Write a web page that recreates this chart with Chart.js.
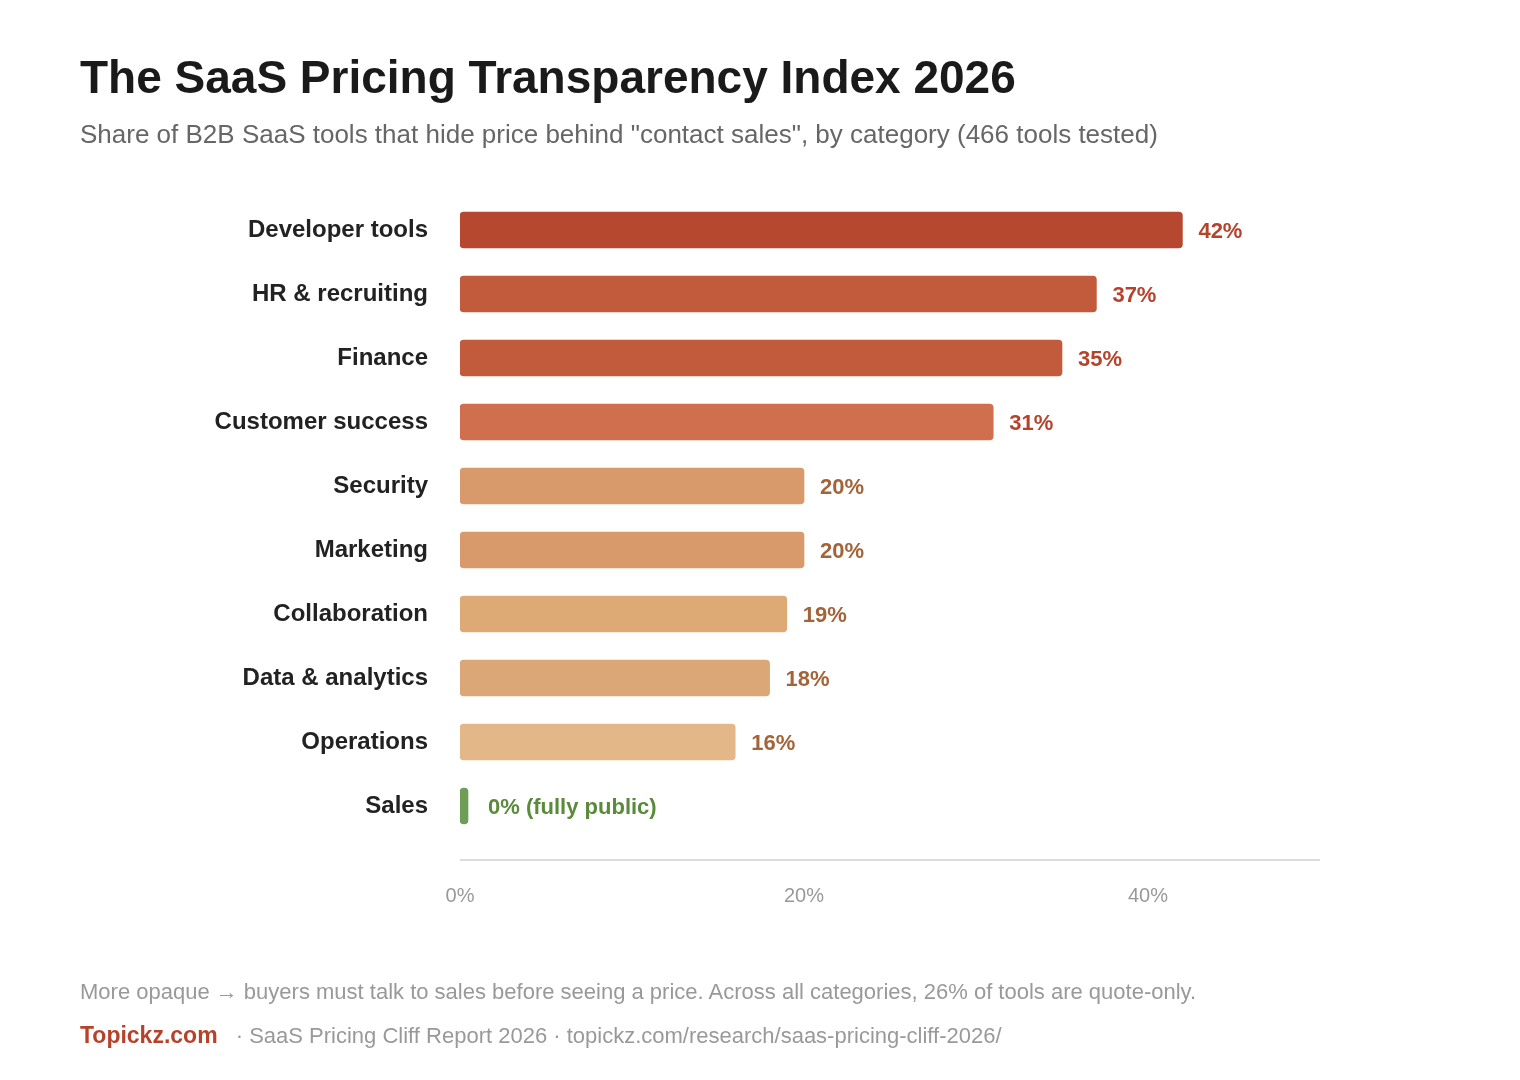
<!DOCTYPE html>
<html>
<head>
<meta charset="utf-8">
<title>SaaS Pricing Transparency Index 2026</title>
<script src="https://cdn.jsdelivr.net/npm/chart.js"></script>
<style>
  body { margin: 0; width: 1520px; height: 1080px; background: #fff; font-family: "Liberation Sans", Arial, sans-serif; position: relative; overflow: hidden; }
  #wrap { position: absolute; left: 0; top: 0; width: 1520px; height: 1080px; }
  .title { position: absolute; left: 80px; top: 50px; font-size: 46px; font-weight: bold; color: #1a1a1a; margin: 0; }
  .sub { position: absolute; left: 80px; top: 119px; font-size: 26px; color: #666; }
  .note { position: absolute; left: 80px; top: 979px; font-size: 22px; color: #999; }
  .src { position: absolute; left: 80px; top: 1022px; font-size: 22px; color: #999; }
  .src b { color: #b5432c; font-size: 23px; margin-right: 12px; }
</style>
</head>
<body>
<div id="wrap"><canvas id="c" width="1520" height="1080"></canvas></div>
<div class="title">The SaaS Pricing Transparency Index 2026</div>
<div class="sub">Share of B2B SaaS tools that hide price behind "contact sales", by category (466 tools tested)</div>
<div class="note">More opaque → buyers must talk to sales before seeing a price. Across all categories, 26% of tools are quote-only.</div>
<div class="src"><b>Topickz.com</b> · SaaS Pricing Cliff Report 2026 · topickz.com/research/saas-pricing-cliff-2026/</div>
<script>
  // data
  var categories = ['Developer tools', 'HR & recruiting', 'Finance', 'Customer success', 'Security',
    'Marketing', 'Collaboration', 'Data & analytics', 'Operations', 'Sales'];
  var shareHidden = [42, 37, 35, 31, 20, 20, 19, 18, 16, 0];
  var valueLabels = ['42%', '37%', '35%', '31%', '20%', '20%', '19%', '18%', '16%', '0% (fully public)'];
  var xTickValues = [0, 20, 40];

  var barColors = ['#b5482f', '#c25b3c', '#c25b3c', '#cf6f4d', '#d89a6a', '#d89a6a', '#ddaa76', '#dca776', '#e3b788', '#6e9e56'];
  var labelColors = ['#b5432c', '#b5432c', '#b5432c', '#b5432c', '#a4643a', '#a4643a', '#a4643a', '#a4643a', '#a4643a', '#5a8a3c'];

  const valueLabelPlugin = {
    id: 'valueLabels',
    afterDatasetsDraw(chart) {
      const ctx = chart.ctx;
      const meta = chart.getDatasetMeta(0);
      ctx.save();
      ctx.font = 'bold 22px "Liberation Sans", Arial, sans-serif';
      ctx.textBaseline = 'middle';
      ctx.textAlign = 'left';
      meta.data.forEach(function (bar, i) {
        ctx.fillStyle = labelColors[i];
        ctx.fillText(valueLabels[i], bar.x + (shareHidden[i] === 0 ? 20 : 16), bar.y + 2);
      });
      // axis baseline
      const xs = chart.scales.x;
      ctx.strokeStyle = '#dddddd';
      ctx.lineWidth = 2;
      ctx.beginPath();
      ctx.moveTo(xs.left, chart.chartArea.bottom + 22);
      ctx.lineTo(xs.right, chart.chartArea.bottom + 22);
      ctx.stroke();
      ctx.restore();
    }
  };

  new Chart(document.getElementById('c'), {
    type: 'bar',
    data: {
      labels: categories,
      datasets: [{
        data: shareHidden,
        backgroundColor: barColors,
        borderRadius: 4,
        borderSkipped: false,
        barThickness: 36,
        minBarLength: 8
      }]
    },
    options: {
      indexAxis: 'y',
      responsive: false,
      animation: false,
      layout: { padding: { top: 198, right: 200, bottom: 162, left: 0 } },
      plugins: { legend: { display: false }, tooltip: { enabled: false } },
      scales: {
        x: {
          min: 0, max: 50,
          grid: { display: false },
          border: { display: false },
          afterBuildTicks: function (s) { s.ticks = xTickValues.map(function (v) { return { value: v }; }); },
          afterFit: function (s) { s.height = 80; },
          ticks: {
            padding: 38,
            color: '#999',
            font: { size: 20, family: '"Liberation Sans", Arial, sans-serif' },
            callback: function (v) { return v + '%'; }
          }
        },
        y: {
          grid: { display: false },
          border: { display: false },
          afterFit: function (s) { s.width = 460; },
          ticks: {
            padding: 24,
            color: '#222',
            font: { size: 24, weight: 'bold', family: '"Liberation Sans", Arial, sans-serif' }
          }
        }
      }
    },
    plugins: [valueLabelPlugin]
  });
</script>
</body>
</html>
